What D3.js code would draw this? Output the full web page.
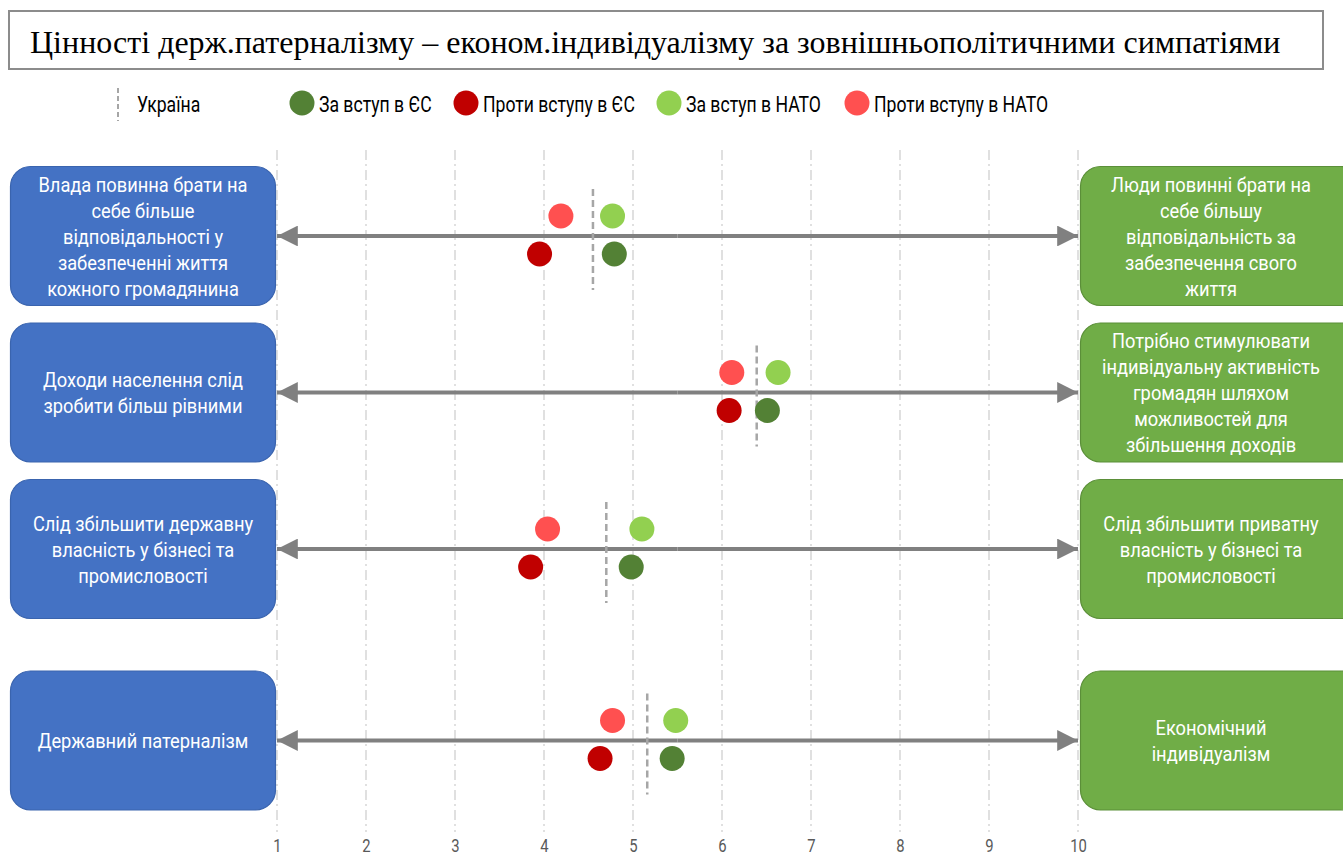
<!DOCTYPE html>
<html>
<head>
<meta charset="utf-8">
<script src="https://cdn.jsdelivr.net/npm/d3@7"></script>
<style>
  html, body { margin: 0; padding: 0; background: #ffffff; }
  svg { display: block; }
</style>
</head>
<body>
<svg id="chart" width="1343" height="857"></svg>
<script>
// ---- data ----
const titleText = "Цінності держ.патерналізму – економ.індивідуалізму за зовнішньополітичними симпатіями";

const leftLabels = [
  ["Влада повинна брати на", "себе більше", "відповідальності у", "забезпеченні життя", "кожного громадянина"],
  ["Доходи населення слід", "зробити більш рівними"],
  ["Слід збільшити державну", "власність у бізнесі та", "промисловості"],
  ["Державний патерналізм"]
];
const rightLabels = [
  ["Люди повинні брати на", "себе більшу", "відповідальність за", "забезпечення свого", "життя"],
  ["Потрібно стимулювати", "індивідуальну активність", "громадян шляхом", "можливостей для", "збільшення доходів"],
  ["Слід збільшити приватну", "власність у бізнесі та", "промисловості"],
  ["Економічний", "індивідуалізм"]
];

const ukraine    = [4.55, 6.39, 4.70, 5.16];
const proEU      = [4.79, 6.51, 4.98, 5.44];
const antiEU     = [3.95, 6.08, 3.85, 4.63];
const proNATO    = [4.77, 6.63, 5.10, 5.48];
const antiNATO   = [4.19, 6.11, 4.04, 4.77];

const seriesNames = ["За вступ в ЄС", "Проти вступу в ЄС", "За вступ в НАТО", "Проти вступу в НАТО"];
const seriesColors = ["#538135", "#C00000", "#92D050", "#FF5050"];
const ukraineLabel = "Україна";
const tickValues = [1, 2, 3, 4, 5, 6, 7, 8, 9, 10];

// ---- layout ----
const svg = d3.select("#chart");
const FONT = "Roboto, 'DejaVu Sans Condensed', sans-serif";

const x = d3.scaleLinear().domain([1, 10]).range([277, 1078]);
// row centres: three statement rows, then the summary row after a gap
const rowY = d3.scaleLinear().domain([0, 1]).range([236, 392.5]);
const rowCenter = i => rowY(i) + (i === 3 ? 35 : 0);

// horizontally condensed text line
function condText(g, tx, ty, str, size, sx, anchor, fill) {
  return g.append("text")
    .attr("transform", `translate(${tx},${ty}) scale(${sx},1)`)
    .attr("font-family", FONT).attr("font-size", size)
    .attr("text-anchor", anchor).attr("fill", fill)
    .text(str);
}

// title box
svg.append("rect")
  .attr("x", 9).attr("y", 11).attr("width", 1314).attr("height", 58)
  .attr("fill", "#ffffff").attr("stroke", "#8c8c8c").attr("stroke-width", 2);
svg.append("text")
  .attr("x", 30).attr("y", 53)
  .attr("font-family", "'Liberation Serif', 'Times New Roman', serif")
  .attr("font-size", 32)
  .attr("fill", "#000")
  .text(titleText);

// legend
const legend = svg.append("g");
legend.append("line")
  .attr("x1", 118).attr("x2", 118).attr("y1", 88).attr("y2", 121)
  .attr("stroke", "#a6a6a6").attr("stroke-width", 2).attr("stroke-dasharray", "5,3");
condText(legend, 137, 112, ukraineLabel, 22, 0.8, "start", "#000");
const legendX = [302, 466, 669, 857];
seriesNames.forEach((name, i) => {
  legend.append("circle").attr("cx", legendX[i]).attr("cy", 103).attr("r", 12.5).attr("fill", seriesColors[i]);
  condText(legend, legendX[i] + 17, 112, name, 22, 0.8, "start", "#000");
});

// vertical dash-dot gridlines
svg.append("g").selectAll("line").data(tickValues).join("line")
  .attr("x1", d => x(d)).attr("x2", d => x(d))
  .attr("y1", 150).attr("y2", 832)
  .attr("stroke", "#d0d0d0").attr("stroke-width", 1.3)
  .attr("stroke-dasharray", "10,4,2,4");

// bottom axis labels
const axis = d3.axisBottom(x).tickValues(tickValues).tickSize(0).tickPadding(0).tickFormat(d3.format("d"));
const axisG = svg.append("g").attr("transform", "translate(0,838)").call(axis);
axisG.select(".domain").remove();
axisG.selectAll("text")
  .attr("font-family", FONT).attr("font-size", 19).attr("fill", "#595959")
  .attr("transform", "scale(0.78,1)")
  .attr("dy", "0.72em");

// arrow marker
const defs = svg.append("defs");
defs.append("marker")
  .attr("id", "arrow-end")
  .attr("viewBox", "0 0 10 10")
  .attr("refX", 10).attr("refY", 5)
  .attr("markerWidth", 5.2).attr("markerHeight", 5.2)
  .attr("markerUnits", "strokeWidth")
  .attr("orient", "auto")
  .append("path").attr("d", "M0,0 L10,5 L0,10 z").attr("fill", "#808080");

const rows = d3.range(leftLabels.length);

// rounded pole box with centred, wrapped label
function drawBox(g, x0, y0, w, h, fill, stroke, lines, textCx) {
  g.append("rect")
    .attr("x", x0).attr("y", y0).attr("width", w).attr("height", h)
    .attr("rx", 20).attr("ry", 20)
    .attr("fill", fill).attr("stroke", stroke).attr("stroke-width", 1.2);
  const lh = 26;
  const cy = y0 + h / 2;
  lines.forEach((ln, j) => {
    condText(g, textCx, cy + (j - (lines.length - 1) / 2) * lh + 7.5, ln, 21, 0.87, "middle", "#ffffff");
  });
}

rows.forEach(i => {
  const cy = rowCenter(i);
  const g = svg.append("g");
  drawBox(g, 10.5, cy - 69.5, 265, 139, "#4472C4", "#3A64AE", leftLabels[i], 143);
  drawBox(g, 1080.5, cy - 69.5, 280, 139, "#70AD47", "#5B8F39", rightLabels[i], 1211);

  // double-headed arrow between the poles
  g.append("line")
    .attr("x1", x(5.5)).attr("x2", x(1))
    .attr("y1", cy).attr("y2", cy)
    .attr("stroke", "#808080").attr("stroke-width", 4)
    .attr("marker-end", "url(#arrow-end)");
  g.append("line")
    .attr("x1", x(5.5)).attr("x2", x(10))
    .attr("y1", cy).attr("y2", cy)
    .attr("stroke", "#808080").attr("stroke-width", 4)
    .attr("marker-end", "url(#arrow-end)");

  // Ukraine average
  g.append("line")
    .attr("x1", x(ukraine[i])).attr("x2", x(ukraine[i]))
    .attr("y1", cy - 47).attr("y2", cy + 54)
    .attr("stroke", "#a6a6a6").attr("stroke-width", 2.5).attr("stroke-dasharray", "7,4");

  // upper row: NATO groups, lower row: EU groups
  const pts = [
    { v: antiNATO[i], dy: -20, c: seriesColors[3] },
    { v: proNATO[i],  dy: -20, c: seriesColors[2] },
    { v: antiEU[i],   dy: 18,  c: seriesColors[1] },
    { v: proEU[i],    dy: 18,  c: seriesColors[0] }
  ];
  g.selectAll("circle.pt").data(pts).join("circle")
    .attr("class", "pt")
    .attr("cx", d => x(d.v)).attr("cy", d => cy + d.dy)
    .attr("r", 12.5).attr("fill", d => d.c);
});
</script>
</body>
</html>
